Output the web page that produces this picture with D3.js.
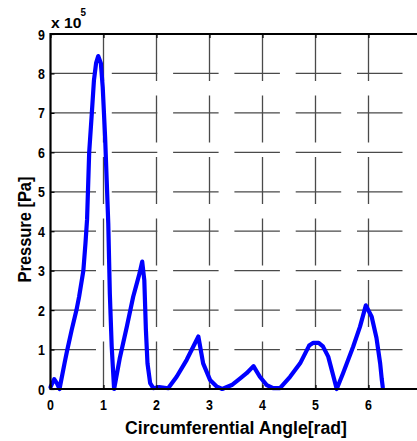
<!DOCTYPE html>
<html>
<head>
<meta charset="utf-8">
<script src="https://cdn.jsdelivr.net/npm/d3@7"></script>
<style>
  html, body { margin: 0; padding: 0; background: #fff; }
  svg { display: block; font-family: "Liberation Sans", Arial, Helvetica, sans-serif; font-weight: bold; }
</style>
</head>
<body>
<svg id="chart" width="417" height="441"></svg>
<script>
// Circumferential angle (rad) and pressure (in units of 10^5 Pa)
const angle = [0.00, 0.07, 0.12, 0.17, 0.27, 0.31, 0.40, 0.49, 0.54, 0.62, 0.66, 0.69, 0.73, 0.78, 0.82, 0.86, 0.90,
  0.95, 0.985, 1.03, 1.06, 1.09, 1.12, 1.155, 1.20, 1.31, 1.44, 1.56, 1.68, 1.73, 1.77, 1.80, 1.83, 1.88, 1.94,
  2.05, 2.22, 2.38, 2.57, 2.79, 2.88, 3.01, 3.14, 3.24, 3.42, 3.58, 3.70, 3.83, 3.95, 4.08, 4.20, 4.33, 4.52,
  4.71, 4.88, 4.96, 5.06, 5.14, 5.24, 5.34, 5.40, 5.52, 5.71, 5.84, 5.95, 6.06, 6.15, 6.22, 6.25, 6.27];
const pressure = [0.05, 0.25, 0.15, 0.00, 0.69, 0.95, 1.50, 2.00, 2.34, 3.00, 3.70, 4.30, 6.00, 7.00, 7.83, 8.26, 8.44,
  8.26, 7.66, 6.40, 5.30, 4.20, 2.40, 1.07, 0.00, 0.80, 1.58, 2.34, 2.93, 3.23, 2.76, 1.50, 0.65, 0.15, 0.02,
  0.05, 0.02, 0.31, 0.74, 1.33, 0.65, 0.23, 0.06, 0.00, 0.10, 0.27, 0.40, 0.58, 0.31, 0.10, 0.02, 0.02, 0.31,
  0.65, 1.10, 1.17, 1.17, 1.08, 0.82, 0.31, 0.00, 0.40, 1.07, 1.58, 2.12, 1.83, 1.30, 0.65, 0.25, 0.04];

const xTicks = [0, 1, 2, 3, 4, 5, 6, 7];
const yTicks = [0, 1, 2, 3, 4, 5, 6, 7, 8, 9];
const xTickLabels = ["0", "1", "2", "3", "4", "5", "6"];
const yTickLabels = ["0", "1", "2", "3", "4", "5", "6", "7", "8", "9"];
const yExponent = "5";
const xTitle = "Circumferential Angle[rad]";
const yTitle = "Pressure [Pa]";

const svg = d3.select("#chart");
const plotLeft = 50.5, plotRight = 421.5, plotTop = 34, plotBottom = 389;

const x = d3.scaleLinear().domain([0, 7]).range([plotLeft, plotRight]);
const y = d3.scaleLinear().domain([0, 9]).range([plotBottom, plotTop]);

// dotted-style grid, drawn as long dashes that cross at tick positions
const grid = svg.append("g").attr("stroke", "#4a4a4a").attr("stroke-width", 1.3).attr("fill", "none");
grid.selectAll("line.h")
  .data(yTicks.filter(v => v > 0 && v < 9))
  .join("line").attr("class", "h")
  .attr("x1", plotLeft).attr("x2", plotRight)
  .attr("y1", d => y(d)).attr("y2", d => y(d))
  .attr("stroke-dasharray", "45.5,15.8");
grid.selectAll("line.v")
  .data(xTicks.filter(v => v > 0 && v < 7))
  .join("line").attr("class", "v")
  .attr("x1", d => x(d)).attr("x2", d => x(d))
  .attr("y1", plotTop).attr("y2", plotBottom)
  .attr("stroke-dasharray", "47,14.5");

// pressure curve
const line = d3.line().x((d, i) => x(angle[i])).y(d => y(d));
svg.append("path")
  .datum(pressure)
  .attr("d", line)
  .attr("fill", "none")
  .attr("stroke", "#0000ff")
  .attr("stroke-width", 4.2)
  .attr("stroke-linejoin", "round")
  .attr("stroke-linecap", "round");

// inward ticks
const tk = 4;
svg.append("g").attr("transform", `translate(${plotLeft},0)`)
  .call(d3.axisLeft(y).tickValues(yTicks).tickSize(-tk).tickFormat(""));
svg.append("g").attr("transform", `translate(0,${plotBottom})`)
  .call(d3.axisBottom(x).tickValues(xTicks).tickSize(-tk).tickFormat(""));
svg.append("g").attr("transform", `translate(0,${plotTop})`)
  .call(d3.axisTop(x).tickValues(xTicks).tickSize(-tk).tickFormat(""));
svg.selectAll(".domain").remove();
svg.selectAll(".tick line").attr("stroke", "#000").attr("stroke-width", 1.2);

// axes box
const box = svg.append("g").attr("stroke", "#000").attr("stroke-width", 2.2);
box.append("line").attr("x1", plotLeft).attr("x2", plotRight).attr("y1", plotBottom).attr("y2", plotBottom);
box.append("line").attr("x1", plotLeft).attr("x2", plotRight).attr("y1", plotTop).attr("y2", plotTop);
box.append("line").attr("x1", plotLeft).attr("x2", plotLeft).attr("y1", plotTop - 1).attr("y2", plotBottom + 1);

// tick labels (narrow bold face)
const narrow = 0.8;
svg.append("g").selectAll("g")
  .data(yTicks)
  .join("g")
  .attr("transform", d => `translate(45,${y(d)}) scale(${narrow},1)`)
  .append("text")
  .attr("text-anchor", "end")
  .attr("dy", "0.36em")
  .attr("font-size", 15.5)
  .text((d, i) => yTickLabels[i]);

svg.append("g").selectAll("g")
  .data(xTicks.slice(0, xTickLabels.length))
  .join("g")
  .attr("transform", d => `translate(${x(d)},409.5) scale(${narrow},1)`)
  .append("text")
  .attr("text-anchor", "middle")
  .attr("font-size", 15.5)
  .text((d, i) => xTickLabels[i]);

// horizontal scale factor that fits a text element to a given width
function fitWidth(text, width) {
  const len = text.node().getComputedTextLength();
  return width / len;
}

// exponent label
const expG = svg.append("g");
const expT = expG.append("text").attr("font-size", 14).text("x 10");
expG.attr("transform", `translate(51,28) scale(${fitWidth(expT, 30.5)},1)`);
const supG = svg.append("g");
const supT = supG.append("text").attr("font-size", 11).text(yExponent);
supG.attr("transform", `translate(80.5,15.5) scale(${fitWidth(supT, 5.5)},1)`);

// axis titles
const xg = svg.append("g");
const xt = xg.append("text").attr("text-anchor", "middle").attr("font-size", 19).text(xTitle);
xg.attr("transform", `translate(236,433.5) scale(${fitWidth(xt, 222)},1)`);

const yg = svg.append("g");
const yt = yg.append("text").attr("text-anchor", "middle").attr("font-size", 19).text(yTitle);
yg.attr("transform", `translate(31,229.5) rotate(-90) scale(${fitWidth(yt, 106)},1)`);
</script>
</body>
</html>
